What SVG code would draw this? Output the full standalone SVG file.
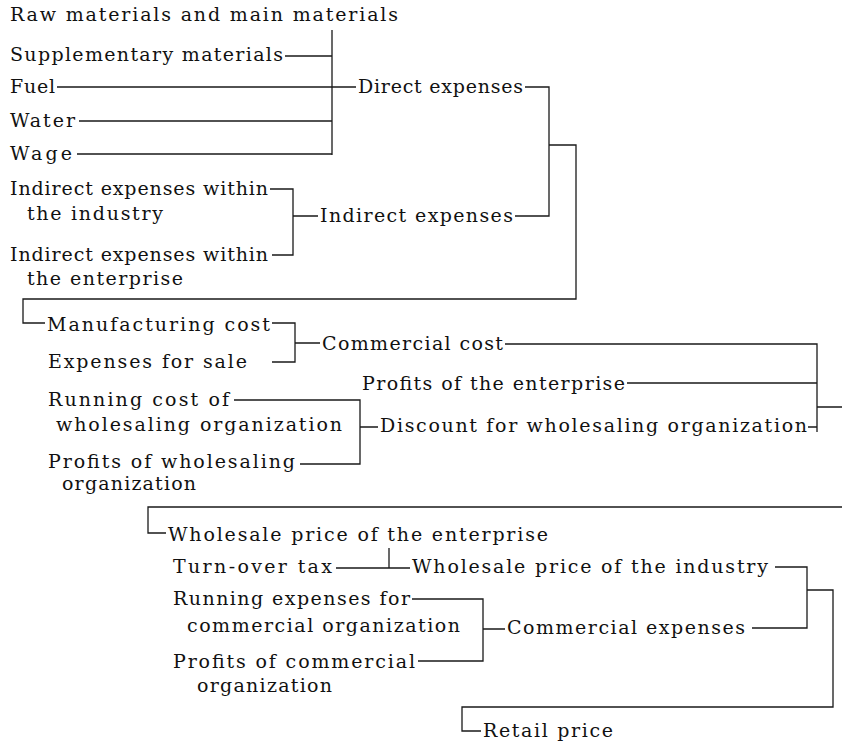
<svg xmlns="http://www.w3.org/2000/svg" width="842" height="743" viewBox="0 0 842 743">
<style>
.t { font-family: "DejaVu Serif", "Liberation Serif", serif; font-size: 19px; fill: #111; }
.c { fill: none; stroke: #1a1a1a; stroke-width: 1.3; }
</style>
<rect width="842" height="743" fill="#fff"/>
<g id="connectors" class="c">
  <path d="M332,30 V155 M285,56 H332 M57,87 H356 M79,121 H332 M77,154 H332"/>
  <path d="M525,87 H549 V216 H515 M549,145 H576 V299 H23 V323 H45"/>
  <path d="M270,189 H293 V255 H272 M293,216 H318"/>
  <path d="M272,323 H295 V362 H272 M295,343 H320"/>
  <path d="M505,344 H817 V432 M627,383 H817 M817,407 H842 M808,427 H817"/>
  <path d="M234,400 H360 V464 H300 M360,427 H378"/>
  <path d="M842,507 H148 V533 H166"/>
  <path d="M336,568 H410 M389,548 V568"/>
  <path d="M775,567 H807 V628 H752 M807,590 H833 V707 H462 V731 H481"/>
  <path d="M412,599 H483 V661 H418 M483,629 H505"/>
</g>
<g id="raw-materials"><text class="t" x="10" y="21" textLength="388">Raw materials and main materials</text></g>
<g id="supplementary"><text class="t" x="10" y="61" textLength="273">Supplementary materials</text></g>
<g id="fuel"><text class="t" x="10" y="93" textLength="45">Fuel</text></g>
<g id="water"><text class="t" x="10" y="127" textLength="65">Water</text></g>
<g id="wage"><text class="t" x="10" y="160" textLength="62">Wage</text></g>
<g id="indirect-industry"><text class="t" x="10" y="195" textLength="258">Indirect expenses within</text><text class="t" x="27" y="220" textLength="136">the industry</text></g>
<g id="indirect-enterprise"><text class="t" x="10" y="261" textLength="258">Indirect expenses within</text><text class="t" x="27" y="285" textLength="156">the enterprise</text></g>
<g id="direct-expenses"><text class="t" x="358" y="93" textLength="165">Direct expenses</text></g>
<g id="indirect-expenses"><text class="t" x="320" y="222" textLength="193">Indirect expenses</text></g>
<g id="manufacturing-cost"><text class="t" x="47" y="331" textLength="223">Manufacturing cost</text></g>
<g id="expenses-for-sale"><text class="t" x="48" y="368" textLength="199">Expenses for sale</text></g>
<g id="commercial-cost"><text class="t" x="322" y="350" textLength="181">Commercial cost</text></g>
<g id="running-cost-wholesaling"><text class="t" x="48" y="406" textLength="181">Running cost of</text><text class="t" x="56" y="431" textLength="286">wholesaling organization</text></g>
<g id="profits-wholesaling"><text class="t" x="48" y="468" textLength="247">Profits of wholesaling</text><text class="t" x="62" y="490" textLength="134">organization</text></g>
<g id="profits-enterprise"><text class="t" x="362" y="390" textLength="263">Profits of the enterprise</text></g>
<g id="discount-wholesaling"><text class="t" x="380" y="432" textLength="427">Discount for wholesaling organization</text></g>
<g id="wholesale-enterprise"><text class="t" x="168" y="541" textLength="380">Wholesale price of the enterprise</text></g>
<g id="turn-over-tax"><text class="t" x="173" y="573" textLength="159">Turn-over tax</text></g>
<g id="wholesale-industry"><text class="t" x="412" y="573" textLength="356">Wholesale price of the industry</text></g>
<g id="running-expenses-commercial"><text class="t" x="173" y="605" textLength="237">Running expenses for</text><text class="t" x="187" y="632" textLength="273">commercial organization</text></g>
<g id="profits-commercial"><text class="t" x="173" y="668" textLength="242">Profits of commercial</text><text class="t" x="197" y="692" textLength="135">organization</text></g>
<g id="commercial-expenses"><text class="t" x="507" y="634" textLength="238">Commercial expenses</text></g>
<g id="retail-price"><text class="t" x="483" y="737" textLength="130">Retail price</text></g>
</svg>
